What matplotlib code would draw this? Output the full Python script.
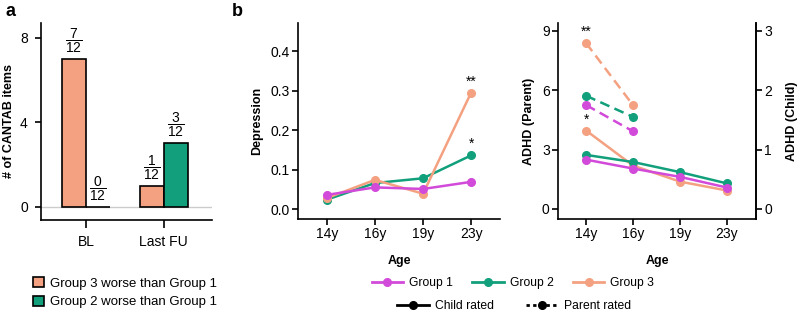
import numpy as np
import matplotlib
matplotlib.use("Agg")
import matplotlib.pyplot as plt
from matplotlib.lines import Line2D
from matplotlib.patches import Patch

plt.rcParams['font.family'] = ['Liberation Sans', 'DejaVu Sans']
plt.rcParams['mathtext.fontset'] = 'custom'
plt.rcParams['mathtext.rm'] = 'Liberation Sans'
plt.rcParams['mathtext.default'] = 'regular'

c1 = '#d24ad9'   # group 1
c2 = '#12a07c'   # group 2
c3 = '#f4a181'   # group 3

# panel a data
bar_groups = ['BL', 'Last FU']
g3_worse = [7, 1]
g2_worse = [0, 3]
n_items = 12

# panel b data
ages = ['14y', '16y', '19y', '23y']
dep_g1 = [0.036, 0.055, 0.051, 0.069]
dep_g2 = [0.024, 0.066, 0.078, 0.136]
dep_g3 = [0.028, 0.074, 0.039, 0.295]

adhd_parent_g1 = [5.25, 3.92]
adhd_parent_g2 = [5.72, 4.65]
adhd_parent_g3 = [8.38, 5.24]

adhd_child_g1 = [0.83, 0.68, 0.54, 0.36]
adhd_child_g2 = [0.91, 0.79, 0.62, 0.43]
adhd_child_g3 = [1.32, 0.73, 0.46, 0.31]

fig = plt.figure(figsize=(8, 3.15), dpi=100)
W, H = 800, 315


def add_ax(l, r, t, b):
    return fig.add_axes([l / W, 1 - b / H, (r - l) / W, (b - t) / H])


def style(ax, lw=1.2):
    for s in ['top', 'right']:
        ax.spines[s].set_visible(False)
    for s in ['left', 'bottom']:
        ax.spines[s].set_linewidth(lw)
    ax.tick_params(width=lw, length=4, labelsize=10, colors='black', pad=2)


# ---- panel a ----
ax = add_ax(41, 212, 23, 220)
style(ax)
x = np.arange(len(bar_groups))
w = 0.31
ax.axhline(0, color='#cccccc', lw=1, zorder=0)
b3 = ax.bar(x - w / 2, g3_worse, w, color=c3, edgecolor='black', lw=1.2)
b2 = ax.bar(x + w / 2, g2_worse, w, color=c2, edgecolor='black', lw=1.2)
for bars, vals in [(b3, g3_worse), (b2, g2_worse)]:
    for b, v in zip(bars, vals):
        ax.annotate(r'$\dfrac{%d}{%d}$' % (v, n_items),
                    (b.get_x() + b.get_width() / 2, v),
                    xytext=(0, 3), textcoords='offset points',
                    ha='center', va='bottom', fontsize=10)
ax.set_xticks(x)
ax.set_xticklabels(bar_groups)
ax.set_yticks([0, 4, 8])
ax.set_ylim(-0.62, 8.7)
ax.set_xlim(-0.58, 1.62)
ax.tick_params(axis='x', length=6, pad=5)
ax.tick_params(axis='y', length=4.5, pad=5)
ax.set_ylabel('# of CANTAB items', fontsize=9, fontweight='bold')
ax.yaxis.set_label_coords(-0.15, 0.5)
ax.legend(handles=[Patch(facecolor=c3, edgecolor='black', lw=1.2, label='Group 3 worse than Group 1'),
                   Patch(facecolor=c2, edgecolor='black', lw=1.2, label='Group 2 worse than Group 1')],
          loc='upper left', bbox_to_anchor=(28 / W, 1 - 272 / H), bbox_transform=fig.transFigure,
          frameon=False, fontsize=9.5, handlelength=0.8, handleheight=0.8,
          handletextpad=0.5, labelspacing=0.45, borderaxespad=0)
fig.text(5 / W, 1 - 12 / H, 'a', fontsize=13, fontweight='bold', va='center')

# ---- panel b, depression ----
ax1 = add_ax(298, 500, 23, 219)
style(ax1)
xs = np.arange(len(ages))
for vals, c in [(dep_g2, c2), (dep_g3, c3), (dep_g1, c1)]:
    ax1.plot(xs, vals, color=c, lw=1.8, marker='o', ms=5.5)
ax1.annotate('**', (3, dep_g3[3]), xytext=(0, 3), textcoords='offset points',
             ha='center', va='bottom', fontsize=10)
ax1.annotate('*', (3, dep_g2[3]), xytext=(0, 3), textcoords='offset points',
             ha='center', va='bottom', fontsize=10)
ax1.set_xticks(xs)
ax1.set_xticklabels(ages)
ax1.set_xlim(-0.6, 3.6)
ax1.set_ylim(-0.025, 0.471)
ax1.set_yticks([0, 0.1, 0.2, 0.3, 0.4])
ax1.set_yticklabels(['0.0', '0.1', '0.2', '0.3', '0.4'])
ax1.set_ylabel('Depression', fontsize=9, fontweight='bold', labelpad=5)
ax1.set_xlabel('Age', fontsize=9, fontweight='bold', labelpad=10)
fig.text(232 / W, 1 - 12 / H, 'b', fontsize=13, fontweight='bold', va='center')

# ---- panel b, ADHD ----
ax2 = add_ax(558, 756, 23, 219)
style(ax2)
ax2.spines['right'].set_visible(True)
ax2.spines['right'].set_linewidth(1.2)
ax3 = ax2.twinx()
for s in ['top', 'left', 'bottom']:
    ax3.spines[s].set_visible(False)
ax3.spines['right'].set_linewidth(1.2)
ax3.tick_params(width=1.2, length=4, labelsize=10, pad=2)

for vals, c in [(adhd_parent_g3, c3), (adhd_parent_g2, c2), (adhd_parent_g1, c1)]:
    ax2.plot(xs[:2], vals, color=c, lw=1.8, marker='o', ms=5.5, dashes=(4, 2.2))
for vals, c in [(adhd_child_g3, c3), (adhd_child_g2, c2), (adhd_child_g1, c1)]:
    ax3.plot(xs, vals, color=c, lw=1.8, marker='o', ms=5.5)
ax2.annotate('**', (0, adhd_parent_g3[0]), xytext=(0, 3), textcoords='offset points',
             ha='center', va='bottom', fontsize=10)
ax3.annotate('*', (0, adhd_child_g3[0]), xytext=(0, 3), textcoords='offset points',
             ha='center', va='bottom', fontsize=10)
ax2.set_xticks(xs)
ax2.set_xticklabels(ages)
ax2.set_xlim(-0.6, 3.62)
ax2.set_ylim(-0.51, 9.4)
ax2.set_yticks([0, 3, 6, 9])
ax3.set_ylim(-0.17, 3.133)
ax3.set_yticks([0, 1, 2, 3])
ax2.set_ylabel('ADHD (Parent)', fontsize=9, fontweight='bold', labelpad=5)
ax3.set_ylabel('ADHD (Child)', fontsize=9, fontweight='bold', labelpad=10)
ax2.set_xlabel('Age', fontsize=9, fontweight='bold', labelpad=10)

# legends for panel b
group_handles = [Line2D([], [], color=c, lw=2, marker='o', ms=5.5, label=l)
                 for c, l in [(c1, 'Group 1'), (c2, 'Group 2'), (c3, 'Group 3')]]
fig.legend(handles=group_handles, loc='center', bbox_to_anchor=(513 / W, 1 - 283 / H),
           ncol=3, frameon=False, fontsize=8.7, handlelength=2.6,
           handletextpad=0.5, columnspacing=1.6, borderaxespad=0)
rate_handles = [Line2D([], [], color='black', lw=2, marker='o', ms=5.5, label='Child rated'),
                Line2D([], [], color='black', lw=2, marker='o', ms=5.5,
                       dashes=(1.2, 1.2), label='Parent rated')]
fig.legend(handles=rate_handles, loc='center', bbox_to_anchor=(514 / W, 1 - 306 / H),
           ncol=2, frameon=False, fontsize=8.7, handlelength=2.6,
           handletextpad=0.5, columnspacing=2.7, borderaxespad=0)

fig.savefig('out.png', dpi=100)
